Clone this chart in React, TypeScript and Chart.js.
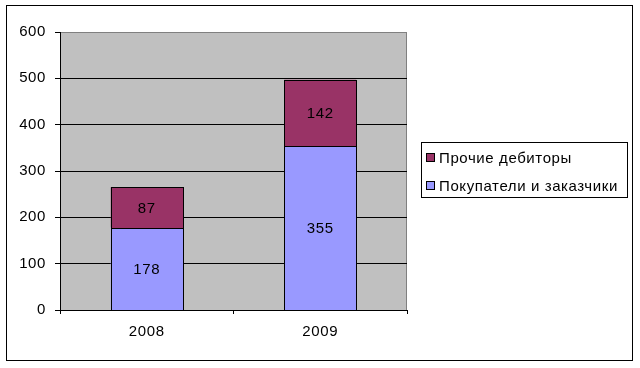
import React, { useEffect, useRef } from "react";
import { Chart, registerables } from "chart.js";

Chart.register(...registerables);

const categories = ["2008", "2009"];
const buyers = [178, 355];
const others = [87, 142];
const seriesNames = ["Покупатели и заказчики", "Прочие дебиторы"];
const seriesColors = ["#9999FF", "#993366"];
const yTicks = [0, 100, 200, 300, 400, 500, 600];

const FONT = "'Liberation Sans', Arial, sans-serif";
const FS = 15;
const LS = "0.6px";

const framePlugin = {
  id: "framePlugin",
  beforeDraw(chart: any) {
    const { ctx, chartArea } = chart;
    ctx.save();
    ctx.fillStyle = "#ffffff";
    ctx.fillRect(0, 0, chart.width, chart.height);
    ctx.fillStyle = "#C0C0C0";
    ctx.fillRect(chartArea.left, chartArea.top, chartArea.right - chartArea.left, chartArea.bottom - chartArea.top);
    ctx.strokeStyle = "#808080";
    ctx.lineWidth = 1;
    ctx.strokeRect(chartArea.left + 0.5, chartArea.top + 0.5, chartArea.right - chartArea.left - 1, chartArea.bottom - chartArea.top);
    ctx.strokeStyle = "#000000";
    ctx.strokeRect(6.5, 5.5, 626, 355);
    ctx.restore();
    (ctx as any).letterSpacing = LS;
  },
  afterDatasetsDraw(chart: any) {
    const { ctx } = chart;
    ctx.save();
    ctx.strokeStyle = "#000";
    ctx.lineWidth = 1;
    chart.data.datasets.forEach((ds: any, i: number) => {
      const meta = chart.getDatasetMeta(i);
      meta.data.forEach((bar: any) => {
        const l = Math.round(bar.x - bar.width / 2);
        const r = Math.round(bar.x + bar.width / 2);
        const t = Math.round(Math.min(bar.y, bar.base));
        const b = Math.round(Math.max(bar.y, bar.base));
        ctx.fillStyle = ds.backgroundColor;
        ctx.fillRect(l, t, r - l, b - t);
        ctx.strokeRect(l + 0.5, t + 0.5, r - l, b - t);
      });
    });
    // data labels
    ctx.font = FS + "px " + FONT;
    ctx.letterSpacing = LS;
    ctx.fillStyle = "#000";
    ctx.textAlign = "center";
    ctx.textBaseline = "middle";
    chart.data.datasets.forEach((ds: any, i: number) => {
      const meta = chart.getDatasetMeta(i);
      meta.data.forEach((bar: any, j: number) => {
        const y = (bar.y + bar.base) / 2;
        ctx.fillText(String(ds.data[j]), bar.x, y + 1);
      });
    });
    ctx.restore();
  },
  afterDraw(chart: any) {
    const { ctx } = chart;
    ctx.save();
    ctx.font = FS + "px " + FONT;
    ctx.letterSpacing = LS;
    ctx.textBaseline = "middle";
    // legend
    const lx = 421, ly = 142, lw = 206, lh = 55;
    ctx.strokeStyle = "#000";
    ctx.lineWidth = 1;
    ctx.strokeRect(lx + 0.5, ly + 0.5, lw, lh);
    const items = chart.data.datasets.map((d: any) => ({ label: d.label, color: d.backgroundColor })).reverse();
    ctx.textAlign = "left";
    items.forEach((it: any, k: number) => {
      const cy = ly + 16 + k * 28;
      ctx.fillStyle = it.color;
      ctx.fillRect(426, cy - 4, 8, 8);
      ctx.strokeRect(426.5, cy - 4.5, 8, 8);
      ctx.fillStyle = "#000";
      ctx.fillText(it.label, 439, cy + 1);
    });
    ctx.restore();
  },
};

export default function App() {
  const ref = useRef<HTMLCanvasElement>(null);
  useEffect(() => {
    const chart = new Chart(ref.current!, {
      type: "bar",
      data: {
        labels: categories,
        datasets: [
          { label: seriesNames[0], data: buyers, backgroundColor: seriesColors[0], borderWidth: 0, barPercentage: 0.415, categoryPercentage: 1 },
          { label: seriesNames[1], data: others, backgroundColor: seriesColors[1], borderWidth: 0, barPercentage: 0.415, categoryPercentage: 1 },
        ],
      },
      options: {
        animation: false,
        responsive: false,
        devicePixelRatio: 1,
        layout: { padding: { left: 0, top: 32, right: 233, bottom: 0 } },
        plugins: { legend: { display: false }, tooltip: { enabled: false } },
        scales: {
          x: {
            stacked: true,
            afterFit: (s: any) => { s.height = 58; },
            grid: { offset: true, drawOnChartArea: false, color: "#000", tickLength: 4 },
            border: { color: "#000" },
            ticks: { color: "#000", font: { family: FONT, size: FS }, padding: 9 },
          },
          y: {
            stacked: true,
            min: 0,
            max: 600,
            afterFit: (s: any) => { s.width = 60; },
            afterBuildTicks: (s: any) => { s.ticks = yTicks.map((v) => ({ value: v })); },
            grid: { color: (c: any) => (c.tick && c.tick.value === 600 ? "#808080" : "#000"), tickLength: 5, tickColor: "#000" },
            border: { color: "#000" },
            ticks: { color: "#000", font: { family: FONT, size: FS }, padding: 9 },
          },
        },
      },
      plugins: [framePlugin],
    });
    return () => chart.destroy();
  }, []);
  return (
    <div style={{ position: "absolute", left: 0, top: 0 }}>
      <canvas ref={ref} width={640} height={368} style={{ width: 640, height: 368 }} />
    </div>
  );
}
